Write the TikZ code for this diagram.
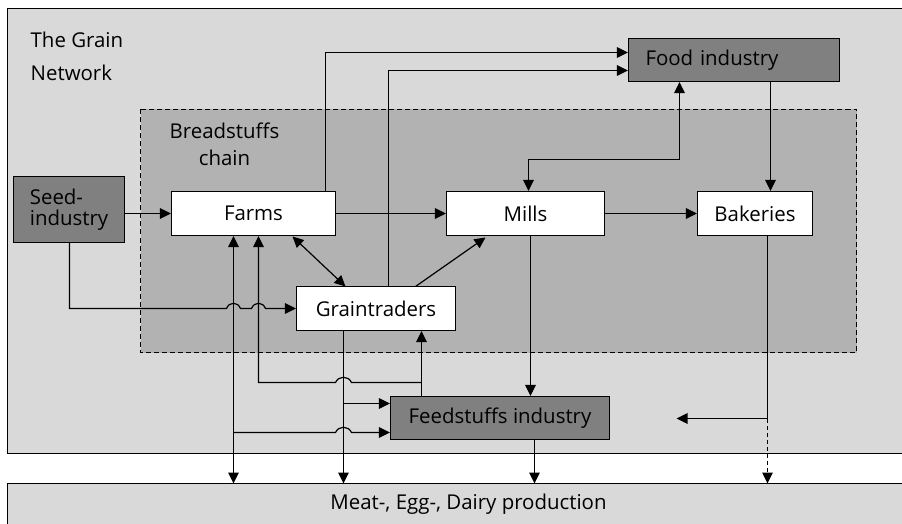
\documentclass[tikz,border=0pt]{standalone}
\usepackage{fontspec}
\setmainfont{Open Sans}
\usetikzlibrary{arrows.meta}
\definecolor{netgrey}{HTML}{D9D9D9}
\definecolor{chaingrey}{HTML}{B2B2B2}
\definecolor{industry}{HTML}{808080}
\begin{document}
\begin{tikzpicture}[x=1bp,y=-1bp,
  font=\fontsize{20.5}{24}\selectfont,
  actor/.style={draw=black, line width=1.1bp, fill=white, minimum height=44bp, inner sep=0pt},
  sector/.style={actor, fill=industry},
  link/.style={line width=1.2bp, draw=black},
  arr/.style={link, -{Triangle[length=11bp,width=10.5bp]}},
  darr/.style={link, {Triangle[length=11bp,width=10.5bp]}-{Triangle[length=11bp,width=10.5bp]}},
]
\useasboundingbox (0,0) rectangle (902,524);
\fill[white] (0,0) rectangle (902,524);
\begin{scope}[shift={(0.5,0.5)}]
% network frame, animal production band, breadstuffs chain
\draw[line width=1.3bp, fill=netgrey] (7,8) rectangle (930,453);
\draw[line width=1.3bp, fill=netgrey] (7,483) rectangle (930,540);
\node[inner sep=0pt] (meattxt) at (468,504) {Meat-, Egg-, Dairy production};
\draw[dashed, dash pattern=on 5bp off 3bp, fill=chaingrey, line width=1bp] (140,109) rectangle (856,352);

\node[anchor=north west, align=left, inner sep=0pt, font=\fontsize{20.5}{33}\selectfont] (title) at (30,31) {The Grain\\Network};
\node[anchor=north, align=center, inner sep=0pt, font=\fontsize{20.5}{27}\selectfont] (chain) at (224,122) {Breadstuffs\\chain};

% actors
\node[sector, minimum width=111bp, minimum height=66bp, align=left, font=\fontsize{20.5}{21}\selectfont] (seed) at (68.5,209) {Seed-\\industry};
\node[actor, minimum width=164bp] (farms) at (253,213) {Farms};
\node[actor, minimum width=158bp] (mills) at (525,213) {Mills};
\node[actor, minimum width=115bp] (bakeries) at (754.5,213) {Bakeries};
\node[sector, minimum height=43bp, text width=177bp, inner xsep=17bp, align=left] (food) at (733.5,59.5) {Food industry};
\node[actor, minimum width=159bp] (traders) at (375.5,308) {Graintraders};
\node[sector, minimum width=219bp, minimum height=43bp] (feed) at (499.5,417.5) {Feedstuffs industry};
\coordinate (meat) at (468,483);

% breadstuffs flow
\draw[arr] (seed.east |- farms.west) -- (farms.west);
\draw[arr] (farms.east) -- (mills.west);
\draw[arr] (mills.east) -- (bakeries.west);
\draw[arr] (farms.north -| 325,0) -- (325,52) -- (food.west |- 0,52);
\draw[arr] (traders.north -| 388,0) -- (388,70) -- (food.west |- 0,70);
\draw[darr] (food.south -| 679,0) -- (679,159) -- (528,159) -- (mills.north -| 528,0);
\draw[arr] (food.south -| 770,0) -- (bakeries.north -| 770,0);
\draw[darr] (292,236) -- (345,286);
\draw[arr] (415,286) -- (485,237);

% seed to graintraders, hopping over the two farm lines
\draw[arr] (seed.south -| 69,0) -- (69,308) -- (226,308)
  .. controls (229,301) and (237,301) .. (240,308) -- (251,308)
  .. controls (254,301) and (262,301) .. (265,308) -- (traders.west);

% farms to animal production and feedstuffs
\draw[darr] (farms.south -| 233,0) -- (meat -| 233,0);
\draw[arr] (233,432) -- (335,432)
  .. controls (338,425) and (348,425) .. (351,432) -- (feed.west |- 0,432);

% feedstuffs back to graintraders and farms
\draw[arr] (feed.north -| 421,0) -- (traders.south -| 421,0);
\draw[arr] (421,382) -- (351,382)
  .. controls (348,375) and (338,375) .. (335,382) -- (258,382) -- (farms.south -| 258,0);

% graintraders to animal production and feedstuffs
\draw[arr] (traders.south -| 343,0) -- (meat -| 343,0);
\draw[arr] (343,403) -- (feed.west |- 0,403);

% mills and feedstuffs
\draw[arr] (mills.south -| 530,0) -- (feed.north -| 530,0);
\draw[arr] (feed.south -| 534,0) -- (meat -| 534,0);

% bakeries residues
\coordinate (resid) at (676,418);
\draw[arr] (bakeries.south -| 767,0) -- (767,418) -- (resid);
\draw[arr, dashed, dash pattern=on 4bp off 3bp] (767,418) -- (meat -| 767,0);
\end{scope}
\end{tikzpicture}
\end{document}
